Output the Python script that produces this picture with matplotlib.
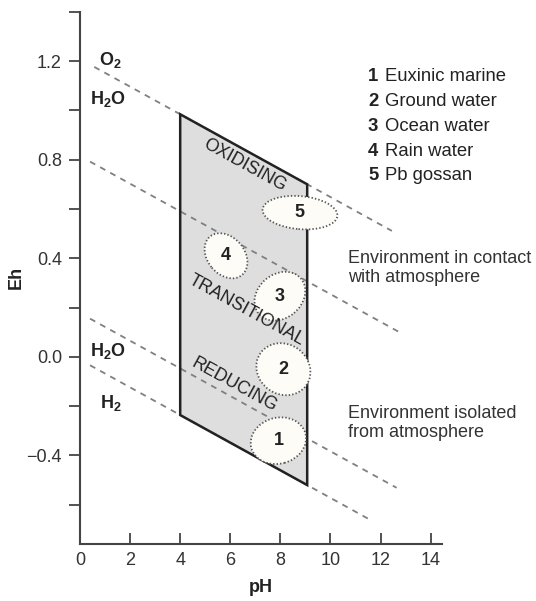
import numpy as np
import matplotlib
matplotlib.use("Agg")
import matplotlib.pyplot as plt
from matplotlib.patches import Ellipse, Polygon
from matplotlib.transforms import ScaledTranslation

plt.rcParams['font.family'] = ['Liberation Sans', 'DejaVu Sans']
plt.rcParams['mathtext.fontset'] = 'custom'
plt.rcParams['mathtext.rm'] = 'Liberation Sans'
plt.rcParams['mathtext.bf'] = 'Liberation Sans:bold'
plt.rcParams['lines.scale_dashes'] = False

# ---- data ----
# dashed boundary lines: (pH start, Eh start) -> (pH end, Eh end)
line_ph_start = [0.57, 0.40, 0.40, 0.40]
line_eh_start = [1.176, 0.792, 0.155, -0.034]
line_ph_end = [12.45, 12.70, 12.64, 11.64]
line_eh_end = [0.511, 0.103, -0.531, -0.664]

# natural environment field (shaded polygon)
field_ph = [4.0, 9.07, 9.07, 4.0]
field_eh = [0.984, 0.700, -0.520, -0.236]

# water types
water_ids = ['1', '2', '3', '4', '5']
water_names = ['Euxinic marine', 'Ground water', 'Ocean water', 'Rain water', 'Pb gossan']
water_ph = [7.92, 8.12, 7.98, 5.83, 8.78]
water_eh = [-0.340, -0.050, 0.246, 0.410, 0.585]

# region labels
region_names = ['OXIDISING', 'TRANSITIONAL', 'REDUCING']
region_ph = [6.59, 6.63, 6.15]
region_eh = [0.777, 0.190, -0.115]

# species labels
species_text = [r'$\mathbf{O_2}$', r'$\mathbf{H_2O}$', r'$\mathbf{H_2O}$', r'$\mathbf{H_2}$']
species_ph = [1.20, 1.12, 1.12, 1.24]
species_eh = [1.205, 1.045, 0.025, -0.188]

xticks = [0, 2, 4, 6, 8, 10, 12, 14]
yticks = [-0.6, -0.4, -0.2, 0.0, 0.2, 0.4, 0.6, 0.8, 1.0, 1.2, 1.4]
ytick_labels = ['', '\u22120.4', '', '0.0', '', '0.4', '', '0.8', '', '1.2', '']

# ---- figure ----
W, H = 536, 601
fig = plt.figure(figsize=(W / 100, H / 100), dpi=100)
ax = fig.add_axes([80 / W, (H - 544) / H, 361.7 / W, (544 - 11.7) / H])
ax.set_xlim(0, 14.44)
ax.set_ylim(-0.759, 1.40)

txtc = '#222222'
axc = '#444444'

for s in ['top', 'right']:
    ax.spines[s].set_visible(False)
for s in ['left', 'bottom']:
    ax.spines[s].set_color(axc)
    ax.spines[s].set_linewidth(1.5)

ax.set_xticks(xticks)
ax.set_xticklabels([str(v) for v in xticks])
ax.set_yticks(yticks)
ax.set_yticklabels(ytick_labels)
ax.tick_params(axis='x', direction='in', length=8, width=1.3, color=axc,
               pad=6, labelsize=13, labelcolor='#333333')
ax.tick_params(axis='y', direction='out', length=8, width=1.3, color=axc,
               pad=5, labelsize=13, labelcolor='#333333')

ax.set_xlabel('pH', fontsize=13, fontweight='bold', color=txtc)
ax.set_ylabel('Eh', fontsize=13, fontweight='bold', color=txtc)
ax.xaxis.set_label_coords(0.5, -0.066)
ax.yaxis.set_label_coords(-0.152, 0.5)

# shaded field: fill below the dashed lines, outline above them
xy = np.column_stack([field_ph, field_eh])
ax.add_patch(Polygon(xy, closed=True, facecolor='#dedede', edgecolor='none', zorder=1))
ax.add_patch(Polygon(xy, closed=True, facecolor='none', edgecolor='#222222',
                     linewidth=1.8, zorder=2.5))

# dashed lines
for x0, y0, x1, y1 in zip(line_ph_start, line_eh_start, line_ph_end, line_eh_end):
    ax.plot([x0, x1], [y0, y1], color='#808080', linewidth=1.3,
            linestyle=(0, (4.3, 4.0)), zorder=2)

# water-type ellipses (sizes in pixels)
ell_w = [56, 56, 55, 50, 75]
ell_h = [46, 50, 44, 37, 33]
ell_a = [15, -35, 40, -50, -5]
for wid, x, y, w, h, a in zip(water_ids, water_ph, water_eh, ell_w, ell_h, ell_a):
    tr = fig.dpi_scale_trans + ScaledTranslation(x, y, ax.transData)
    e = Ellipse((0, 0), w / 100, h / 100, angle=a, transform=tr,
                facecolor='#fdfcf7', edgecolor='#555555', linewidth=1.3,
                linestyle=(0, (1, 1.5)), zorder=3)
    ax.add_patch(e)
    ax.text(x, y, wid, fontsize=13, fontweight='bold', color=txtc,
            ha='center', va='center', zorder=4)

# region labels rotated along the boundary slope
p0 = ax.transData.transform((line_ph_start[0], line_eh_start[0]))
p1 = ax.transData.transform((line_ph_end[0], line_eh_end[0]))
ang = np.degrees(np.arctan2(p1[1] - p0[1], p1[0] - p0[0]))
for name, x, y in zip(region_names, region_ph, region_eh):
    ax.text(x, y, name, fontsize=12.8, color=txtc, rotation=ang,
            rotation_mode='anchor', ha='center', va='center', zorder=4)

# species labels
for t, x, y in zip(species_text, species_ph, species_eh):
    ax.text(x, y, t, fontsize=13, color=txtc, ha='center', va='center', zorder=4)

# legend of water types (figure pixel positions)
leg_y = [76.7, 101.7, 126.5, 151, 176]
for wid, name, py in zip(water_ids, water_names, leg_y):
    fig.text(368 / W, 1 - py / H, wid, fontsize=13.3, fontweight='bold',
             color=txtc, ha='left', va='center')
    fig.text(385 / W, 1 - py / H, name, fontsize=13.3, color=txtc,
             ha='left', va='center')

fig.text(348 / W, 1 - 268 / H, 'Environment in contact\nwith atmosphere',
         fontsize=13, color='#333333', ha='left', va='center', linespacing=1.1)
fig.text(348 / W, 1 - 423 / H, 'Environment isolated\nfrom atmosphere',
         fontsize=13, color='#333333', ha='left', va='center', linespacing=1.1)

fig.savefig('out.png', dpi=100)
